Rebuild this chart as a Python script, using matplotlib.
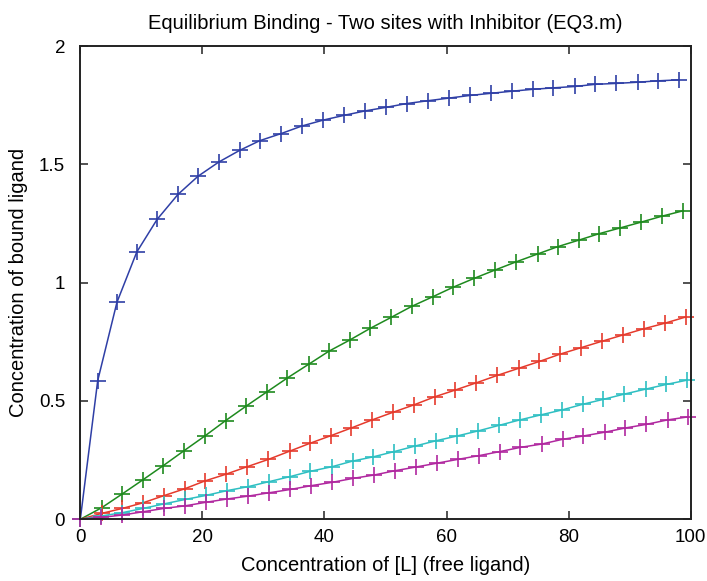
import matplotlib
matplotlib.use("Agg")
import matplotlib.pyplot as plt

plt.rcParams['font.family'] = ['Liberation Sans', 'DejaVu Sans']

title = "Equilibrium Binding - Two sites with Inhibitor (EQ3.m)"
xlabel = "Concentration of [L] (free ligand)"
ylabel = "Concentration of bound ligand"
xticks = [0, 20, 40, 60, 80, 100]
yticks = [0, 0.5, 1, 1.5, 2]
ytick_labels = ["0", "0.5", "1", "1.5", "2"]

blue_x = [0, 2.85, 6.0, 9.24, 12.57, 16.0, 19.3, 22.7, 26.1, 29.4, 32.9, 36.3, 39.8, 43.2, 46.7,
          50.1, 53.5, 57.0, 60.4, 63.8, 67.2, 70.7, 74.1, 77.4, 81.0, 84.3, 87.8, 91.3, 94.7, 98.1]
blue_y = [0, 0.586, 0.917, 1.129, 1.267, 1.373, 1.450, 1.510, 1.559, 1.600, 1.630, 1.662, 1.687,
          1.707, 1.726, 1.741, 1.757, 1.769, 1.780, 1.791, 1.800, 1.809, 1.817, 1.823, 1.829, 1.838,
          1.842, 1.847, 1.853, 1.857]

green_x = [0, 3.5, 6.8, 10.2, 13.6, 17.0, 20.4, 23.8, 27.2, 30.6, 33.9, 37.4, 40.7, 44.1, 47.5,
           50.9, 54.3, 57.7, 61.1, 64.5, 67.9, 71.4, 74.9, 78.2, 81.7, 85.0, 88.4, 91.9, 95.3, 98.8]
green_y = [0, 0.049, 0.106, 0.166, 0.227, 0.290, 0.352, 0.417, 0.479, 0.539, 0.597, 0.655, 0.710,
           0.757, 0.807, 0.853, 0.900, 0.940, 0.981, 1.018, 1.053, 1.088, 1.121, 1.152, 1.180, 1.207,
           1.231, 1.256, 1.281, 1.304]

red_x = [0, 3.5, 6.9, 10.3, 13.7, 17.1, 20.4, 23.8, 27.3, 30.8, 34.3, 37.6, 41.0, 44.4, 47.8,
         51.2, 54.7, 58.1, 61.4, 64.9, 68.3, 71.8, 75.2, 78.6, 82.0, 85.4, 88.9, 92.3, 95.8, 99.2]
red_y = [0, 0.025, 0.046, 0.070, 0.100, 0.129, 0.162, 0.190, 0.222, 0.253, 0.288, 0.321, 0.353,
         0.386, 0.420, 0.452, 0.484, 0.518, 0.546, 0.577, 0.608, 0.638, 0.667, 0.698, 0.725, 0.752,
         0.779, 0.805, 0.829, 0.855]

cyan_x = [0, 3.43, 6.87, 10.3, 13.7, 17.2, 20.6, 24.0, 27.5, 30.9, 34.3, 37.7, 41.2, 44.6, 48.0,
          51.4, 54.9, 58.3, 61.7, 65.1, 68.6, 72.0, 75.4, 78.9, 82.3, 85.7, 89.1, 92.6, 96.0, 99.4]
cyan_y = [0, 0.014, 0.028, 0.046, 0.065, 0.084, 0.101, 0.121, 0.138, 0.159, 0.180, 0.203, 0.222,
          0.246, 0.264, 0.286, 0.310, 0.332, 0.352, 0.373, 0.397, 0.420, 0.441, 0.462, 0.486, 0.507,
          0.529, 0.550, 0.570, 0.588]

magenta_x = [0, 3.44, 6.88, 10.3, 13.7, 17.2, 20.6, 24.1, 27.5, 30.9, 34.4, 37.8, 41.2, 44.7, 48.1,
             51.5, 55.0, 58.4, 61.8, 65.3, 68.7, 72.1, 75.6, 79.0, 82.4, 85.9, 89.3, 92.7, 96.2, 99.6]
magenta_y = [0, 0.008, 0.018, 0.032, 0.046, 0.057, 0.072, 0.086, 0.098, 0.112, 0.126, 0.142, 0.156,
             0.173, 0.187, 0.205, 0.221, 0.237, 0.253, 0.269, 0.286, 0.304, 0.318, 0.338, 0.352, 0.368,
             0.386, 0.401, 0.420, 0.433]

series = [
    (blue_x, blue_y, "#2f3fa6"),
    (green_x, green_y, "#1e8a1e"),
    (red_x, red_y, "#e53a2c"),
    (cyan_x, cyan_y, "#2ebfc2"),
    (magenta_x, magenta_y, "#b0279f"),
]

fig = plt.figure(figsize=(7.07, 5.81), dpi=100)
ax = fig.add_axes([0.1136, 0.1062, 0.8634, 0.8146])

for xs, ys, c in series:
    ax.plot(xs, ys, color=c, lw=1.1, marker='+', markersize=12, markeredgewidth=1.2, clip_on=False)

ax.set_xlim(0, 100)
ax.set_ylim(0, 2)
ax.set_xticks(xticks)
ax.set_yticks(yticks)
ax.set_yticklabels(ytick_labels)
ax.tick_params(direction='in', top=True, right=True, length=6, width=1.2,
               labelsize=13.5, color='#333333')
ax.tick_params(axis='y', pad=11)
ax.tick_params(axis='x', pad=7)
for s in ax.spines.values():
    s.set_linewidth(1.4)
    s.set_color('#222222')

ax.set_title(title, fontsize=14.5, pad=12)
ax.set_xlabel(xlabel, fontsize=14.5, labelpad=7)
ax.set_ylabel(ylabel, fontsize=14.5, labelpad=8)

fig.savefig("out.png", dpi=100)
